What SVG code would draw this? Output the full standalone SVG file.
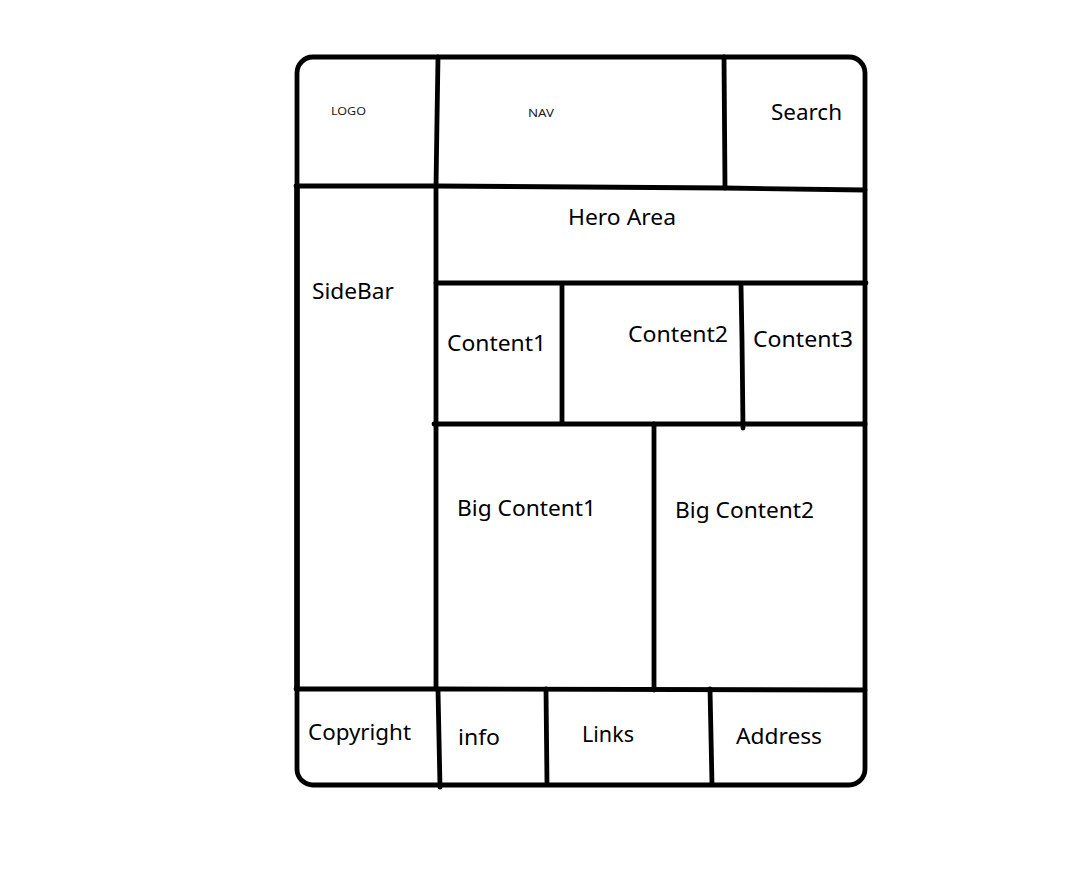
<svg xmlns="http://www.w3.org/2000/svg" width="1089" height="869" viewBox="0 0 1089 869">
<style>
.ln{stroke:#000;stroke-width:4.8;stroke-linecap:round;fill:none}
.t{font-family:"Noto Sans","Open Sans",sans-serif;font-size:22px;fill:#000}
.s{font-family:"Noto Sans","Open Sans",sans-serif;font-size:11px;fill:#1a1a1a}
</style>
<rect width="1089" height="869" fill="#fff"/>
<g id="connectors">
<rect class="ln" x="297" y="57" width="568" height="728" rx="16"/>
<path class="ln" d="M438 57 L437 120 L436 187"/>
<path class="ln" d="M724 57 L725 188"/>
<path class="ln" d="M296 186 L436 186 L724 188 L865 190"/>
<path class="ln" style="stroke-width:5.5" d="M297 186 L297 688"/>
<path class="ln" d="M436 187 L436 688"/>
<path class="ln" d="M436 283 L866 283"/>
<path class="ln" d="M562 285 L562 423"/>
<path class="ln" d="M741 285 L742 340 L743 428"/>
<path class="ln" d="M434 424 L865 424"/>
<path class="ln" d="M654 424 L654 690"/>
<path class="ln" d="M296 689 L436 689 L865 690"/>
<path class="ln" d="M438 690 L440 787"/>
<path class="ln" d="M546 689 L547 784"/>
<path class="ln" d="M710 689 L712 784"/>
</g>
<g id="logo"><text class="s" x="331" y="115" textLength="35" lengthAdjust="spacingAndGlyphs">LOGO</text></g>
<g id="nav"><text class="s" x="528" y="117" textLength="26" lengthAdjust="spacingAndGlyphs">NAV</text></g>
<g id="search"><text class="t" x="771" y="120" textLength="71" lengthAdjust="spacingAndGlyphs">Search</text></g>
<g id="hero"><text class="t" x="568" y="225" textLength="108" lengthAdjust="spacingAndGlyphs">Hero Area</text></g>
<g id="sidebar"><text class="t" x="312" y="299" textLength="82" lengthAdjust="spacingAndGlyphs">SideBar</text></g>
<g id="content1"><text class="t" x="447" y="351" textLength="99" lengthAdjust="spacingAndGlyphs">Content1</text></g>
<g id="content2"><text class="t" x="628" y="342" textLength="100" lengthAdjust="spacingAndGlyphs">Content2</text></g>
<g id="content3"><text class="t" x="753" y="347" textLength="100" lengthAdjust="spacingAndGlyphs">Content3</text></g>
<g id="big1"><text class="t" x="457" y="516" textLength="139" lengthAdjust="spacingAndGlyphs">Big Content1</text></g>
<g id="big2"><text class="t" x="675" y="518" textLength="139" lengthAdjust="spacingAndGlyphs">Big Content2</text></g>
<g id="copyright"><text class="t" x="308" y="740" textLength="103" lengthAdjust="spacingAndGlyphs">Copyright</text></g>
<g id="info"><text class="t" x="458" y="745" textLength="42" lengthAdjust="spacingAndGlyphs">info</text></g>
<g id="links"><text class="t" x="582" y="742" textLength="52" lengthAdjust="spacingAndGlyphs">Links</text></g>
<g id="address"><text class="t" x="736" y="744" textLength="86" lengthAdjust="spacingAndGlyphs">Address</text></g>
</svg>
